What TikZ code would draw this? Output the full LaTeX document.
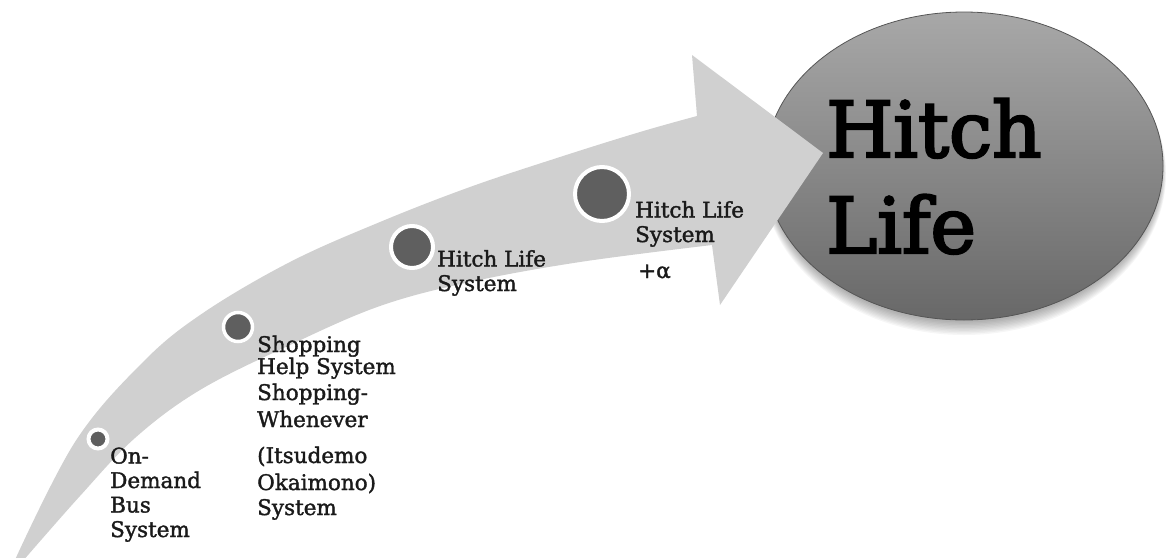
\documentclass[tikz,border=0pt]{standalone}
\usepackage{fontspec}
\setmainfont{DejaVu Serif}
\newfontfamily\stepfont{DejaVu Serif}[FakeBold=1.6]
\newfontfamily\goalfont{DejaVu Serif}[FakeBold=3]
\usetikzlibrary{shapes.geometric}
\definecolor{arrowgray}{HTML}{D0D0D0}
\definecolor{dotgray}{HTML}{5F5F5F}
\definecolor{ink}{HTML}{1A1A1A}
\definecolor{lifetop}{HTML}{A8A8A8}
\definecolor{lifebot}{HTML}{686868}
\definecolor{lifeedge}{HTML}{555555}
\begin{document}
\begin{tikzpicture}[x=1pt,y=-1pt,
  dot/.style={circle, fill=dotgray, draw=white, line width=4pt, inner sep=0pt},
  txt/.style={anchor=base west, align=left, inner sep=0pt, text=ink,
    font=\stepfont\fontsize{21.5}{24.5}\selectfont},
  goalshape/.style={ellipse, minimum width=398pt, minimum height=308pt,
    inner sep=0pt, top color=lifetop, bottom color=lifebot,
    draw=lifeedge, line width=0.8pt},
]
\useasboundingbox (0,0) rectangle (1166,557);

% soft shadow under the goal ellipse
\foreach \i in {1,...,10}
  \fill[black, opacity=0.035] (964,168+\i*0.6) ellipse [x radius=197+\i*0.5, y radius=153+\i*0.8];

% goal ellipse
\node[goalshape] (goal) at (964,166) {};

% the curved arrow
\fill[arrowgray]
  plot[smooth, tension=0.6] coordinates {(14,562) (75,442) (143,362) (203,313)
    (290,262) (380,222) (470,187) (560,157) (640,132) (697,116)}
  -- (692,55) -- (823,153) -- (720,305)
  -- plot[smooth, tension=0.6] coordinates {(712,245) (580,262) (470,282)
    (380,306) (290,345) (200,390) (135,438) (80,496) (22,562)}
  -- cycle;

% goal text (anchored at the baseline of its last line)
\node[anchor=base west, align=left, inner sep=0pt, text=black,
  font=\goalfont\fontsize{77}{96}\selectfont] (goaltext) at (826,253) {Hitch\\Life};

% steps along the arrow
\node[dot, minimum size=19pt] (c1) at (98,439) {};
\node[dot, minimum size=29pt, line width=3.5pt] (c2) at (238,327) {};
\node[dot, minimum size=42pt] (c3) at (412,247) {};
\node[dot, minimum size=54pt] (c4) at (602,194) {};

\node[txt] (od) at (110,537) {On-\\Demand\\Bus\\System};
\node[txt, font=\stepfont\fontsize{21.5}{22}\selectfont] (shop) at (257,515)
  {Shopping\\Help System\\[4pt]Shopping-\\[5pt]Whenever\\[14pt](Itsudemo\\[5pt]Okaimono)\\[3pt]System};
\node[txt] (hls1) at (437,291) {Hitch Life\\System};
\node[txt] (hls2) at (635,242) {Hitch Life\\System};
\node[txt] (plus) at (638,278) {+α};
\end{tikzpicture}
\end{document}
